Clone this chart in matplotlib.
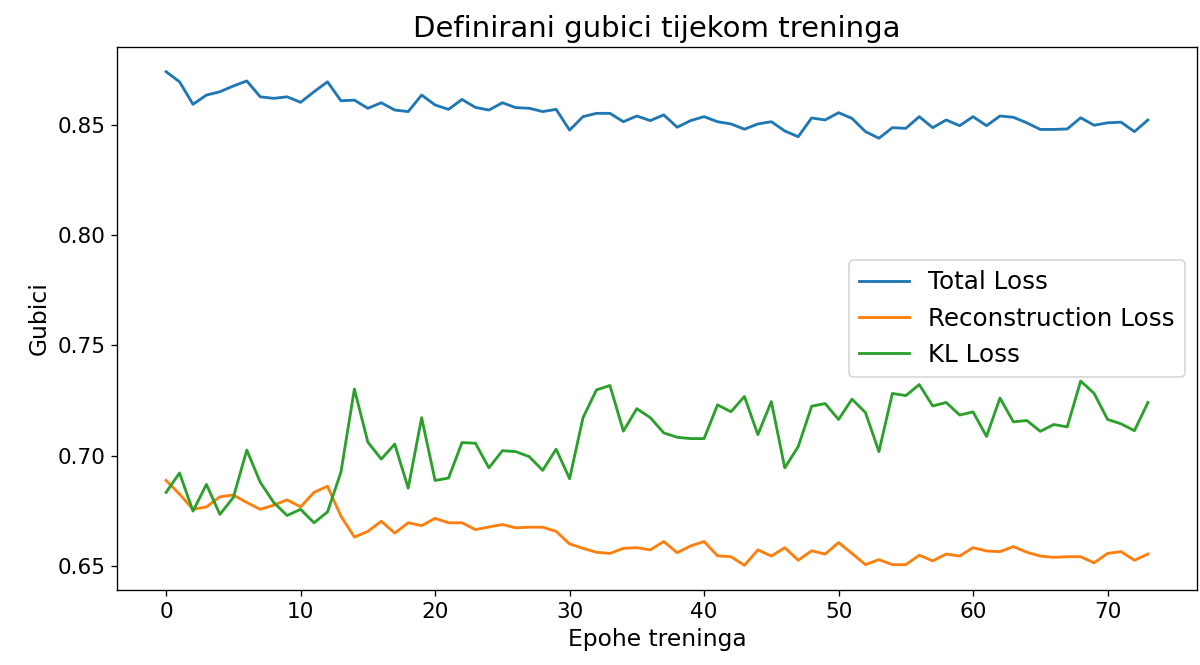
import matplotlib
matplotlib.use('Agg')
import matplotlib.pyplot as plt
import numpy as np

# loss values per epoch
total_loss = [
    0.8742, 0.8696, 0.8594, 0.8636, 0.8651, 0.8677, 0.8700, 0.8628, 0.8621, 0.8628,
    0.8603, 0.8651, 0.8696, 0.8610, 0.8613, 0.8576, 0.8601, 0.8568, 0.8561, 0.8636,
    0.8591, 0.8571, 0.8616, 0.8580, 0.8568, 0.8601, 0.8579, 0.8576, 0.8561, 0.8571,
    0.8477, 0.8538, 0.8553, 0.8553, 0.8515, 0.8541, 0.8520, 0.8546, 0.8490, 0.8520,
    0.8538, 0.8515, 0.8505, 0.8481, 0.8505, 0.8515, 0.8473, 0.8447, 0.8532, 0.8523,
    0.8556, 0.8530, 0.8470, 0.8440, 0.8488, 0.8485, 0.8538, 0.8488, 0.8523, 0.8497,
    0.8538, 0.8497, 0.8541, 0.8535, 0.8510, 0.8480, 0.8480, 0.8482, 0.8533, 0.8499,
    0.8510, 0.8513, 0.8470, 0.8523,
]
recon_loss = [
    0.6887, 0.6825, 0.6756, 0.6767, 0.6813, 0.6821, 0.6787, 0.6756, 0.6775, 0.6799,
    0.6767, 0.6833, 0.6861, 0.6725, 0.6630, 0.6656, 0.6702, 0.6648, 0.6695, 0.6682,
    0.6715, 0.6695, 0.6695, 0.6664, 0.6676, 0.6687, 0.6672, 0.6675, 0.6675, 0.6656,
    0.6599, 0.6579, 0.6561, 0.6556, 0.6579, 0.6582, 0.6572, 0.6610, 0.6559, 0.6590,
    0.6610, 0.6545, 0.6541, 0.6502, 0.6572, 0.6544, 0.6582, 0.6525, 0.6568, 0.6553,
    0.6605, 0.6556, 0.6505, 0.6528, 0.6505, 0.6505, 0.6548, 0.6522, 0.6553, 0.6544,
    0.6582, 0.6567, 0.6564, 0.6587, 0.6561, 0.6544, 0.6538, 0.6541, 0.6541, 0.6513,
    0.6556, 0.6564, 0.6525, 0.6553,
]
kl_loss = [
    0.6833, 0.6921, 0.6748, 0.6869, 0.6733, 0.6810, 0.7025, 0.6879, 0.6787, 0.6728,
    0.6756, 0.6695, 0.6744, 0.6925, 0.7302, 0.7061, 0.6984, 0.7052, 0.6852, 0.7172,
    0.6887, 0.6898, 0.7059, 0.7056, 0.6944, 0.7022, 0.7018, 0.6995, 0.6933, 0.7029,
    0.6895, 0.7172, 0.7298, 0.7318, 0.7111, 0.7213, 0.7172, 0.7103, 0.7083, 0.7077,
    0.7077, 0.7230, 0.7199, 0.7268, 0.7095, 0.7245, 0.6944, 0.7041, 0.7224, 0.7236,
    0.7164, 0.7256, 0.7195, 0.7018, 0.7282, 0.7272, 0.7322, 0.7225, 0.7241, 0.7184,
    0.7198, 0.7087, 0.7261, 0.7153, 0.7159, 0.7110, 0.7141, 0.7130, 0.7338, 0.7282,
    0.7164, 0.7144, 0.7113, 0.7241,
]
epochs = np.arange(len(total_loss))

plt.rcParams.update({"font.size": 14})

fig = plt.figure(figsize=(10, 665 / 120), dpi=120)
ax = fig.add_axes([0.0975, 0.1128, 0.90, 0.8165])

ax.plot(epochs, total_loss, label="Total Loss", linewidth=1.7)
ax.plot(epochs, recon_loss, label="Reconstruction Loss", linewidth=1.7)
ax.plot(epochs, kl_loss, label="KL Loss", linewidth=1.7)

ax.set_title("Definirani gubici tijekom treninga", fontsize=17.5)
ax.set_xlabel("Epohe treninga")
ax.set_ylabel("Gubici")
ax.tick_params(labelsize=13)
ax.legend(loc="center right", fontsize=14.8)

fig.savefig("out.png", dpi=120)
